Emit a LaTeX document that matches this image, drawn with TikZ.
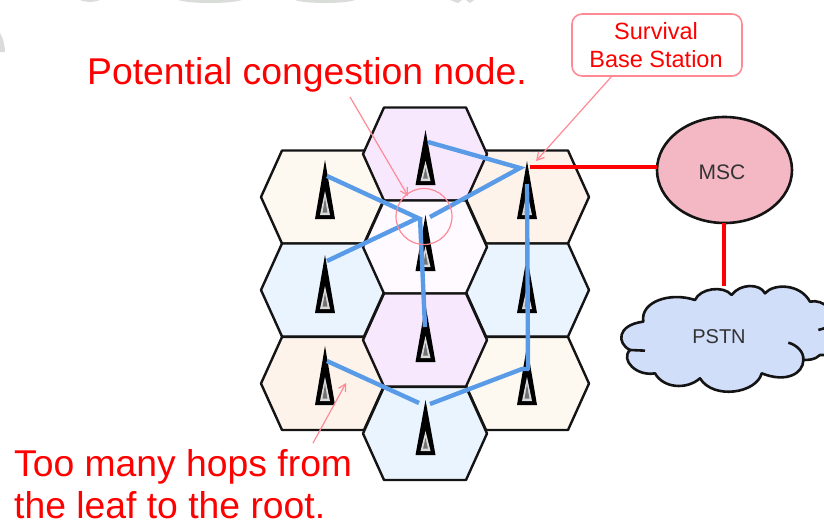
\documentclass[tikz,border=0pt]{standalone}
\usepackage{fontspec}
\setmainfont{Liberation Sans}
\usetikzlibrary{arrows.meta}
\definecolor{hexA}{HTML}{FDF9F1}
\definecolor{hexB}{HTML}{EAF4FE}
\definecolor{hexC}{HTML}{FDF3EB}
\definecolor{hexD}{HTML}{F7E8FD}
\definecolor{hexE}{HTML}{FEFAFF}
\definecolor{linkblue}{HTML}{5A9BE8}
\definecolor{leader}{HTML}{FF8A96}
\definecolor{edgegrey}{HTML}{DADCDA}
\tikzset{
  x=1pt,y=-1pt,
  cell/.style={draw=black!92,line width=2.4pt,line join=round},
  link/.style={draw=linkblue,line width=4.4pt,line cap=butt,line join=miter},
  trunk/.style={draw=red,line width=4.2pt},
  note/.style={draw=leader,line width=1.2pt},
  notearrow/.style={note,-{Straight Barb[length=7pt,width=8pt]}},
  bigred/.style={text=red,font=\fontsize{37.3}{44}\selectfont,inner sep=0pt,anchor=base west},
  darklabel/.style={text=black!80,inner sep=0pt},
  redlabel/.style={text=red,font=\fontsize{23.5}{29}\selectfont,align=center,inner sep=0pt},
}
\newcommand{\hexcell}[3]{\draw[cell,fill=#3] (#1-62,#2) -- (#1-41,#2-46.5) -- (#1+41,#2-46.5) -- (#1+62,#2) -- (#1+41,#2+46.5) -- (#1-41,#2+46.5) -- cycle;}
\newcommand{\mast}[3]{%
  \fill[black] (#1,#2) -- (#1+10,#3) -- (#1-10,#3) -- cycle;
  \fill[white!85!black] (#1,#2+31) -- (#1+5,#3-4) -- (#1-5,#3-4) -- cycle;
  \fill[black!55] (#1,#2+38) -- (#1+2.4,#3-6.5) -- (#1-2.4,#3-6.5) -- cycle;
}
\begin{document}
\begin{tikzpicture}
\useasboundingbox (0,0) rectangle (824,525);
\fill[white] (0,0) rectangle (824,525);
% faint remains along the top and left edges
\fill[edgegrey] (178,0) .. controls (190,4) and (230,4) .. (242,0) -- cycle;
\fill[edgegrey] (295,0) .. controls (305,4) and (345,4) .. (355,0) -- cycle;
\fill[edgegrey] (80,0) .. controls (84,2) and (92,3) .. (100,0) -- cycle;
\fill[edgegrey] (450,0) -- (458,3) -- (462,0) -- cycle;
\fill[edgegrey] (466,0) -- (470,3) -- (474,0) -- cycle;
\fill[edgegrey] (0,33) .. controls (3,38) and (5,45) .. (5,52) -- (0,52) -- cycle;
\hexcell{323}{197}{hexA}
\hexcell{323}{290}{hexB}
\hexcell{323}{383.5}{hexC}
\hexcell{527}{197}{hexC}
\hexcell{527}{290}{hexB}
\hexcell{527}{383.5}{hexA}
\hexcell{425}{154}{hexD}
\hexcell{425}{247}{hexE}
\hexcell{425}{340}{hexD}
\hexcell{425}{433.5}{hexB}
\mast{325}{160}{219}
\mast{325}{255}{313}
\mast{325}{346}{405}
\mast{425.5}{130}{185}
\mast{425.5}{215}{271}
\mast{425.5}{305}{362}
\mast{425.5}{400}{455}
\mast{527}{161}{219}
\mast{527}{256}{313}
\mast{527}{346}{405}
% attachment points of the wireless links
\coordinate (topcell) at (428,142);
\coordinate (rootin) at (520,168);
\coordinate (centreout) at (430,217);
\coordinate (leftupper) at (327,176);
\coordinate (centrein) at (418,218);
\coordinate (leftmiddle) at (327,261);
\coordinate (centredown) at (420,218);
\coordinate (middlecell) at (425,327);
\coordinate (rootdown) at (527,184);
\coordinate (rightlower) at (528,370);
\coordinate (leftlower) at (327,361);
\coordinate (bottomin) at (419,403);
\coordinate (bottomout) at (430,404);
\coordinate (rightbend) at (522,369);
\coordinate (rightend) at (529,369);
\draw[link] (topcell) -- (rootin) -- (centreout);
\draw[link] (leftupper) -- (centrein) -- (leftmiddle);
\draw[link] (centredown) -- (middlecell);
\draw[link] (rootdown) -- (rightlower);
\draw[link] (leftlower) -- (bottomin);
\draw[link] (bottomout) -- (rightbend) -- (rightend);
% MSC and cloud
\path[draw=black!92,line width=2.6pt,fill={rgb,255:red,244;green,184;blue,196}] (724.5,170) ellipse [x radius=67.5,y radius=53];
\node[darklabel,font=\fontsize{21}{25}\selectfont] (msc) at (722,172) {MSC};
\coordinate (mscwest) at (657,167);
\coordinate (mscsouth) at (724,223);
\coordinate (cloudtop) at (724,286);
\coordinate (root) at (530,167);
\draw[trunk] (root) -- (mscwest);
\draw[trunk] (mscsouth) -- (cloudtop);
\begin{scope}
\clip (0,0) rectangle (824,525);
\begin{scope}[shift={(600,220)},x=0.3333pt,y=-0.3333pt]
\path[fill={rgb,255:red,209;green,222;blue,250},draw=black!92,line width=2.6pt,line join=round]
 (130,305) .. controls (120,245) and (210,215) .. (285,240)
 .. controls (300,205) and (370,195) .. (395,225)
 .. controls (420,190) and (480,190) .. (495,220)
 .. controls (520,190) and (600,190) .. (630,245)
 .. controls (670,235) and (720,280) .. (690,320)
 .. controls (730,350) and (720,410) .. (660,405)
 .. controls (645,420) and (625,420) .. (610,420)
 .. controls (610,460) and (560,490) .. (485,460)
 .. controls (470,520) and (340,540) .. (300,475)
 .. controls (260,510) and (190,505) .. (165,460)
 .. controls (110,470) and (60,420) .. (90,390)
 .. controls (50,370) and (50,315) .. (130,305) -- cycle;
\draw[black!92,line width=2.6pt] (565,368) .. controls (590,375) and (612,395) .. (610,420);
\draw[black!92,line width=2.6pt] (90,390) -- (135,392);
\draw[black!92,line width=2.6pt] (690,320) -- (655,330);
\end{scope}
\end{scope}
\node[darklabel,font=\fontsize{20}{24}\selectfont] (pstn) at (719,337) {PSTN};
% callouts
\node[draw=leader,line width=1.6pt,rounded corners=10pt,minimum width=170pt,minimum height=62pt,inner sep=0pt,fill=white] (box) at (657,45) {};
\node[redlabel] (boxtext) at (656,45) {Survival\\[-1pt]Base Station};
\coordinate (boxfoot) at (612,76);
\coordinate (boxtip) at (536,161);
\draw[notearrow] (boxfoot) -- (boxtip);
\coordinate (congestfoot) at (350,97);
\coordinate (congesttip) at (408,196);
\draw[notearrow] (congestfoot) -- (congesttip);
\coordinate (hopfoot) at (313,443);
\coordinate (hoptip) at (346,383);
\draw[notearrow] (hopfoot) -- (hoptip);
\draw[note] (424,216.5) circle [radius=28];
\node[bigred] (congest) at (87,84) {Potential congestion node.};
\node[bigred] (hops1) at (14,476) {Too many hops from};
\node[bigred] (hops2) at (14,518) {the leaf to the root.};
\end{tikzpicture}
\end{document}
